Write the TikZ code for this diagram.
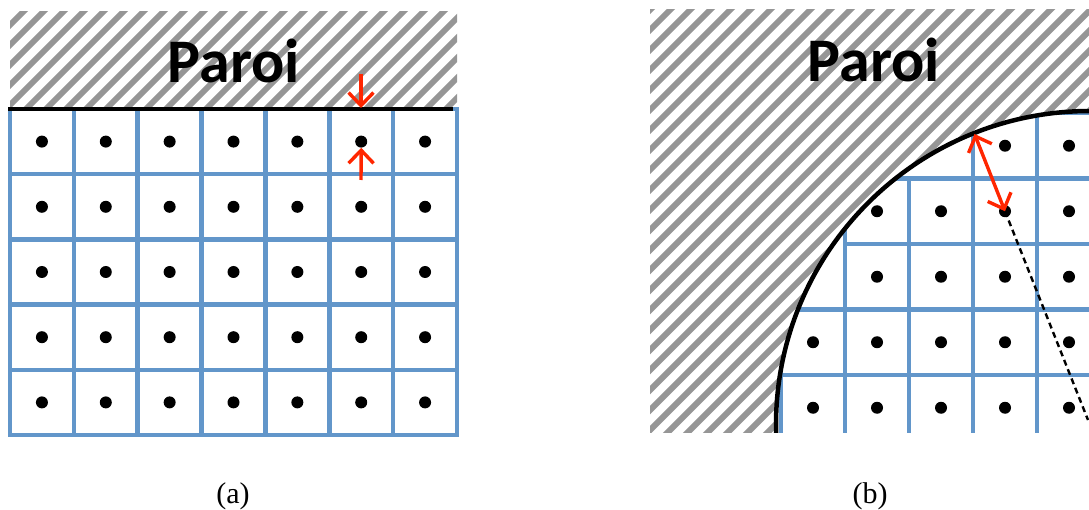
\documentclass[tikz,border=0pt]{standalone}
\usepackage{fontspec}
\setmainfont{Liberation Serif}
\newfontfamily\carlito{Carlito}
\usetikzlibrary{arrows.meta}
\definecolor{gridblue}{RGB}{98,150,202}
\definecolor{hatchgray}{RGB}{150,150,150}
\definecolor{arrred}{RGB}{255,38,0}
\begin{document}
\begin{tikzpicture}[x=1pt,y=-1pt,
  gridline/.style={draw=gridblue,line width=4.5pt},
  hatchline/.style={draw=hatchgray,line width=6pt},
  wall/.style={draw=black,line width=4.5pt},
  dot/.style={circle,fill=black,inner sep=0pt,minimum size=12pt},
  redarrow/.style={draw=arrred,line width=3.4pt,-{Straight Barb[length=13pt,width=25pt]}},
  reddouble/.style={draw=arrred,line width=3.4pt,{Straight Barb[length=13pt,width=25pt]}-{Straight Barb[length=13pt,width=25pt]}},
  dashline/.style={draw=black,line width=2.4pt,dash pattern=on 6pt off 4pt},
  parlabel/.style={font=\carlito\bfseries\fontsize{62}{62}\selectfont,inner sep=0pt,anchor=base},
  captext/.style={font=\fontsize{30}{30}\selectfont,inner sep=0pt,anchor=base}]
\useasboundingbox (0,0) rectangle (1089,510);

% ---------------- panel (a) ----------------
\begin{scope}
  \clip (10,12) rectangle (457,109);
  \foreach \c in {-120,-100,...,460} \draw[hatchline] (\c,115) -- ++(110,-110);
\end{scope}
\foreach \i in {0,...,7} \draw[gridline] ({10+63.857*\i},109) -- ({10+63.857*\i},435);
\foreach \j in {0,...,5} \draw[gridline] (8,{109+65.2*\j}) -- (459,{109+65.2*\j});
\foreach \r in {1,...,5} \foreach \c in {1,...,7}
  \node[dot] (a\r\c) at ({10+63.857*(\c-0.5)},{109+65.2*(\r-0.5)}) {};
\coordinate (aw1) at (8,109);
\coordinate (aw2) at (453,109);
\draw[wall] (aw1) -- (aw2);
\node[parlabel] (pa) at (234,83) {Paroi};
\coordinate (atop) at (361,74);
\coordinate (awp) at (361,108);
\coordinate (abot) at (361,180);
\draw[redarrow] (atop) -- (awp);
\draw[redarrow] (abot) -- (a16.south);
\node[captext] (capa) at (233,503) {(a)};

% ---------------- panel (b) ----------------
\begin{scope}
  \clip (650,10) rectangle (1089,432);
  \foreach \c in {200,220,...,1100} \draw[hatchline] (\c,440) -- ++(440,-440);
  \fill[white] (1090,425) circle[radius=314pt];
  \begin{scope}
    \clip (1090,425) circle[radius=314pt];
    \foreach \x/\y in {973/113,1037/113,
                       845/178.5,909/178.5,973/178.5,1037/178.5,
                       845/244,909/244,973/244,1037/244,
                       781/309.5,845/309.5,909/309.5,973/309.5,1037/309.5,
                       781/375,845/375,909/375,973/375,1037/375}
      \draw[gridline] (\x,\y) rectangle ++(64,65.5);
  \end{scope}
  \draw[wall] (1090,425) circle[radius=314pt];
\end{scope}
% dots of panel (b): row, column index
\foreach \r/\c in {1/4,1/5,
                   2/2,2/3,2/4,2/5,
                   3/2,3/3,3/4,3/5,
                   4/1,4/2,4/3,4/4,4/5,
                   5/1,5/2,5/3,5/4,5/5}
  \node[dot] (b\r\c) at ({781+64*(\c-0.5)},{113+65.5*(\r-0.5)}) {};
\coordinate (bc) at (1088,420);
\draw[dashline] (b24.center) -- (bc);
\coordinate (bw) at (974.5,134);
\draw[reddouble] (bw) -- (b24.center);
\node[parlabel] (pb) at (874,82) {Paroi};
\node[captext] (capb) at (870,503) {(b)};
\end{tikzpicture}
\end{document}
